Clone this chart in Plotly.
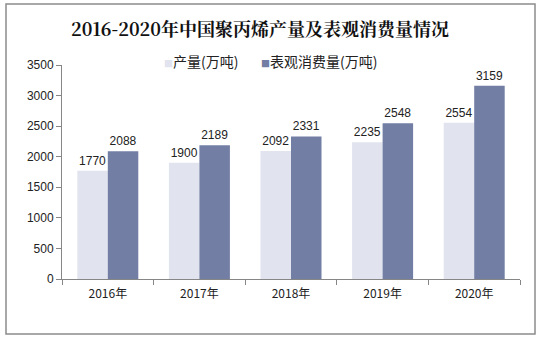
import plotly.graph_objects as go

years = ["2016年", "2017年", "2018年", "2019年", "2020年"]
production = [1770, 1900, 2092, 2235, 2554]
consumption = [2088, 2189, 2331, 2548, 3159]
series_names = ["产量(万吨)", "表观消费量(万吨)"]
series_colors = ["#e1e4ee", "#727ea3"]
title_text = "2016-2020年中国聚丙烯产量及表观消费量情况"

font_main = "Liberation Sans, Arial, Noto Sans CJK SC, sans-serif"

fig = go.Figure()
for name, vals, col in zip(series_names, [production, consumption], series_colors):
    fig.add_trace(go.Bar(
        x=years, y=vals, name=name,
        marker=dict(color=col, line=dict(width=0)),
        text=vals, textposition="outside",
        textfont=dict(size=12, color="#222222", family=font_main),
        cliponaxis=False,
    ))

W, H = 545, 343
L, R, T, B = 62, 520, 65, 279
pw, ph = R - L, B - T

def px(x):
    return (x - L) / pw

def py(y):
    return (B - y) / ph

legend_font = "Noto Sans CJK SC, sans-serif"
annotations = []
legend_x = [165, 262]
for name, col, x0 in zip(series_names, series_colors, legend_x):
    annotations.append(dict(
        xref="paper", yref="paper", x=px(x0 - 3), y=py(61), xanchor="left", yanchor="middle",
        showarrow=False,
        text=f"<span style='color:{col};font-size:9px'>■</span>{name}",
        font=dict(size=14, color="#222222", family=legend_font),
    ))

fig.update_layout(
    width=W, height=H,
    margin=dict(l=L, r=W - R, t=T, b=H - B, pad=0),
    paper_bgcolor="white", plot_bgcolor="white",
    barmode="group", bargap=0.334, bargroupgap=0,
    title=dict(text="<b>" + title_text + "</b>", x=260 / W, xanchor="center",
               y=1 - 30 / H, yanchor="middle",
               font=dict(size=18, color="#111111", family="Noto Serif CJK SC, Noto Sans CJK SC, serif")),
    showlegend=False,
    font=dict(family=font_main, size=12, color="#222222"),
    xaxis=dict(showline=True, linecolor="#868686", linewidth=1,
               ticks="outside", ticklen=5, tickcolor="#868686",
               tickson="boundaries", showgrid=False, ticklabelstandoff=4,
               tickfont=dict(size=12, color="#222222", family=legend_font)),
    yaxis=dict(range=[0, 3500], dtick=500, showline=True, linecolor="#868686", linewidth=1,
               ticks="outside", ticklen=5, tickcolor="#868686", showgrid=False,
               zeroline=False, tickfont=dict(size=12, color="#222222")),
    annotations=annotations,
    shapes=[dict(type="rect", xref="paper", yref="paper",
                 x0=px(6), x1=px(535), y0=py(334), y1=py(4),
                 line=dict(color="#8c8c8c", width=1.5), layer="below")],
)

fig.write_html("out.html")
